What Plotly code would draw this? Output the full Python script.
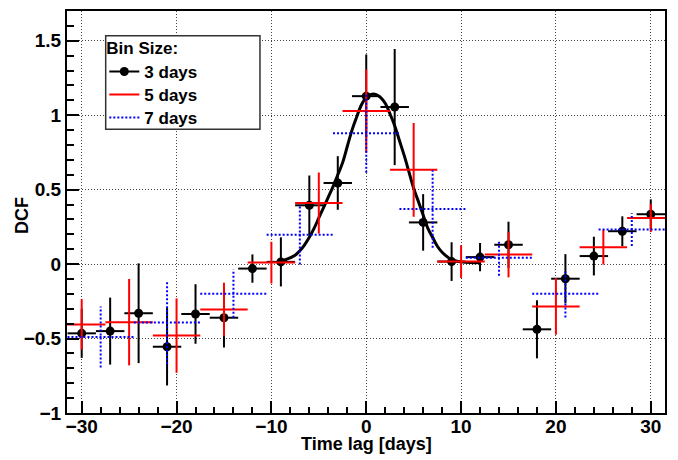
import plotly.graph_objects as go

# ---- data ----
# 3-day bins
lag3 = [-30, -27, -24, -21, -18, -15, -12, -9, -6, -3, 0, 3, 6, 9, 12, 15, 18, 21, 24, 27, 30]
dcf3 = [-0.465, -0.45, -0.33, -0.555, -0.335, -0.36, -0.03, 0.015, 0.395, 0.545, 1.128, 1.055,
        0.28, 0.017, 0.047, 0.13, -0.438, -0.098, 0.054, 0.221, 0.335]
err3 = [0.165, 0.225, 0.335, 0.26, 0.2, 0.2, 0.095, 0.165, 0.2, 0.18, 0.28, 0.39,
        0.19, 0.13, 0.095, 0.155, 0.195, 0.165, 0.13, 0.1, 0.1]
half3 = 1.5

# 5-day bins
lag5 = [-30, -25, -20, -15, -10, -5, 0, 5, 10, 15, 20, 25, 30]
dcf5 = [-0.405, -0.39, -0.48, -0.305, 0.01, 0.41, 1.028, 0.633, 0.017, 0.064, -0.284, 0.114, 0.31]
err5 = [0.17, 0.29, 0.25, 0.18, 0.14, 0.205, 0.28, 0.315, 0.11, 0.153, 0.19, 0.117, 0.095]
half5 = 2.5

# 7-day bins
lag7 = [-28, -21, -14, -7, 0, 7, 14, 21, 28]
dcf7 = [-0.49, -0.393, -0.199, 0.198, 0.879, 0.37, 0.042, -0.199, 0.232]
err7 = [0.205, 0.28, 0.162, 0.2, 0.265, 0.26, 0.12, 0.16, 0.11]
half7 = 3.5

# fitted curve
fit_x = [-9.2, -8.5, -7.5, -7, -6.5, -6, -5.5, -5, -4.5, -4, -3.5, -3, -2.5, -2, -1.5, -1, -0.5,
         0, 0.5, 1, 1.5, 2, 2.5, 3, 3.5, 4, 4.5, 5, 5.5, 6, 6.5, 7, 7.5, 8, 9, 10, 11, 12]
fit_y = [0.02, 0.03, 0.06, 0.09, 0.13, 0.18, 0.24, 0.31, 0.38, 0.45, 0.52, 0.60, 0.68, 0.79, 0.90,
         0.99, 1.07, 1.12, 1.14, 1.14, 1.12, 1.08, 1.01, 0.93, 0.83, 0.73, 0.62, 0.51, 0.42, 0.33,
         0.24, 0.18, 0.12, 0.08, 0.03, 0.015, 0.01, 0.01]

legend_names = ["3 days", "5 days", "7 days"]
x_ticks = [-30, -20, -10, 0, 10, 20, 30]
y_ticks = [-1, -0.5, 0, 0.5, 1, 1.5]
x_title = "Time lag [days]"
y_title = "DCF"

FONT = "Liberation Sans"

fig = go.Figure()

# fit curve
fig.add_trace(go.Scatter(x=fit_x, y=fit_y, mode="lines", line=dict(color="black", width=3, shape="spline"),
                         showlegend=False, hoverinfo="skip"))

# 3-day series
fig.add_trace(go.Scatter(
    x=lag3, y=dcf3, mode="markers",
    marker=dict(color="black", size=9),
    error_y=dict(type="data", array=err3, color="black", thickness=2, width=0),
    error_x=dict(type="constant", value=half3, color="black", thickness=2, width=0),
    showlegend=False))

# 5-day series
fig.add_trace(go.Scatter(
    x=lag5, y=dcf5, mode="markers",
    marker=dict(color="red", size=1),
    error_y=dict(type="data", array=err5, color="red", thickness=2, width=0),
    error_x=dict(type="constant", value=half5, color="red", thickness=2, width=0),
    showlegend=False))

# 7-day series as dotted crosses
bx, by = [], []
for x, y, e in zip(lag7, dcf7, err7):
    bx += [x - half7, x + half7, None, x, x, None]
    by += [y, y, None, y - e, y + e, None]
fig.add_trace(go.Scatter(x=bx, y=by, mode="lines",
                         line=dict(color="blue", width=2, dash="2px,2px"),
                         showlegend=False, hoverinfo="skip"))

# legend entries (one small legend per entry for ROOT-like spacing)
fig.add_trace(go.Scatter(x=[None], y=[None], mode="lines+markers", name=legend_names[0],
                         line=dict(color="black", width=2), marker=dict(color="black", size=9),
                         legend="legend"))
fig.add_trace(go.Scatter(x=[None], y=[None], mode="lines", name=legend_names[1],
                         line=dict(color="red", width=2), legend="legend2"))
fig.add_trace(go.Scatter(x=[None], y=[None], mode="lines", name=legend_names[2],
                         line=dict(color="blue", width=2, dash="2px,2px"), legend="legend3"))

axis_common = dict(
    showline=True, linecolor="black", linewidth=2, mirror=True,
    ticks="inside", tickcolor="black", tickwidth=1.5, ticklen=12,
    showgrid=True, gridcolor="#444", gridwidth=1, griddash="1px,2px",
    zeroline=False, automargin=False,
    tickfont=dict(family=FONT, size=19, color="black", weight="bold"),
)

fig.update_xaxes(range=[-31.55, 31.5], tickvals=x_ticks, ticklabelstandoff=-5,
                 minor=dict(ticks="inside", ticklen=6, dtick=2, tick0=0, tickcolor="black", showgrid=False),
                 **axis_common)
fig.update_yaxes(range=[-1.0, 1.7], tickvals=y_ticks,
                 minor=dict(ticks="inside", ticklen=7, dtick=0.1, tick0=0, tickcolor="black", showgrid=False),
                 **axis_common)

title_font = dict(family=FONT, size=18, color="black", weight="bold")
fig.add_annotation(text=x_title, xref="paper", yref="paper", x=0.5, y=-0.0771,
                   xanchor="center", yanchor="middle", showarrow=False, font=title_font)
fig.add_annotation(text=y_title, xref="paper", yref="paper", x=-0.0753, y=0.4925, textangle=-90,
                   xanchor="center", yanchor="middle", showarrow=False, font=title_font)

# legend frame
fig.add_shape(type="rect", xref="paper", yref="paper", x0=0.0647, x1=0.3227, y0=0.7057, y1=0.9386,
              fillcolor="white", line=dict(color="#333", width=1.5), layer="above")

leg_font = dict(family=FONT, size=17, color="black", weight="bold")
leg_common = dict(x=0.0624, xanchor="left", yanchor="top", bgcolor="rgba(0,0,0,0)", borderwidth=0,
                  font=leg_font, itemwidth=30)

fig.update_layout(
    width=678, height=460,
    margin=dict(l=67, r=13, t=11, b=47),
    plot_bgcolor="white", paper_bgcolor="white",
    legend=dict(y=0.948, title=dict(text="Bin Size:", font=leg_font), **leg_common),
    legend2=dict(y=0.8358, **leg_common),
    legend3=dict(y=0.7786, **leg_common),
)

fig.write_html("out.html", config={"displayModeBar": False},
               post_script="document.body.style.margin='0';")
